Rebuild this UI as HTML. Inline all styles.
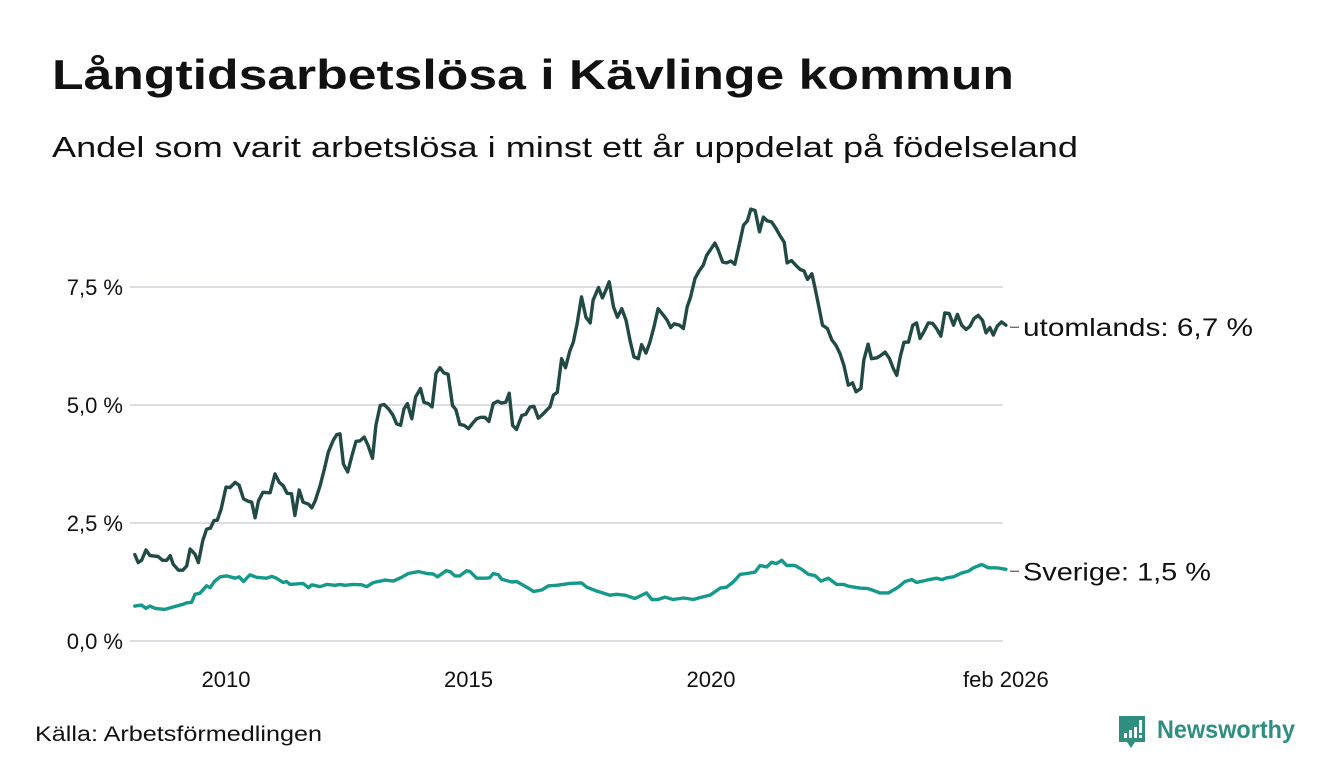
<!DOCTYPE html>
<html><head><meta charset="utf-8">
<style>
html,body{margin:0;padding:0;background:#fff;}
svg{display:block;font-family:"Liberation Sans",sans-serif;}
</style></head>
<body>
<svg id="chart" width="1340" height="780" viewBox="0 0 1340 780" xmlns="http://www.w3.org/2000/svg">
<text x="52" y="89" font-size="42" font-weight="bold" fill="#111" textLength="962" lengthAdjust="spacingAndGlyphs">Långtidsarbetslösa i Kävlinge kommun</text>
<text x="52" y="157" font-size="29" fill="#111" textLength="1026" lengthAdjust="spacingAndGlyphs">Andel som varit arbetslösa i minst ett år uppdelat på födelseland</text>
<g id="grid"></g>
<g id="yticks"></g>
<g id="xticks"></g>
<g id="lines"></g>
<g id="labels"></g>
<text x="35" y="741" font-size="21" fill="#111" textLength="287" lengthAdjust="spacingAndGlyphs">Källa: Arbetsförmedlingen</text>
<g>
<path d="M1119 716 h26 v26 h-10 l-4 6 l-4 -6 h-8 z" fill="#2e8f80"/>
<rect x="1124" y="733" width="3" height="5" fill="#fff"/>
<rect x="1129" y="730" width="3" height="8" fill="#fff"/>
<rect x="1134" y="727" width="3" height="11" fill="#fff"/>
<rect x="1139" y="720" width="3" height="13" fill="#fff"/>
<rect x="1139" y="735" width="3" height="3" fill="#fff"/>
<text x="1157" y="738" font-size="25" font-weight="bold" fill="#2e8f80" textLength="138" lengthAdjust="spacingAndGlyphs">Newsworthy</text>
</g>
</svg>
<script>
const utYears = [2008.12,2008.19,2008.26,2008.35,2008.43,2008.60,2008.69,2008.78,2008.85,2008.91,2009.02,2009.11,2009.19,2009.26,2009.36,2009.43,2009.52,2009.60,2009.68,2009.75,2009.82,2009.90,2010.00,2010.08,2010.19,2010.27,2010.36,2010.46,2010.53,2010.60,2010.67,2010.76,2010.91,2011.01,2011.10,2011.18,2011.26,2011.35,2011.42,2011.51,2011.59,2011.70,2011.77,2011.84,2011.94,2012.02,2012.11,2012.21,2012.28,2012.35,2012.42,2012.51,2012.59,2012.68,2012.76,2012.85,2012.93,2013.02,2013.09,2013.18,2013.26,2013.35,2013.44,2013.52,2013.60,2013.67,2013.74,2013.83,2013.91,2014.01,2014.08,2014.17,2014.25,2014.33,2014.41,2014.49,2014.58,2014.67,2014.74,2014.82,2014.91,2015.00,2015.09,2015.17,2015.25,2015.34,2015.42,2015.51,2015.60,2015.68,2015.77,2015.84,2015.91,2015.99,2016.10,2016.18,2016.27,2016.35,2016.44,2016.53,2016.61,2016.68,2016.75,2016.83,2016.92,2017.00,2017.09,2017.16,2017.24,2017.33,2017.42,2017.51,2017.57,2017.68,2017.76,2017.83,2017.90,2017.99,2018.07,2018.16,2018.25,2018.33,2018.41,2018.50,2018.57,2018.66,2018.74,2018.82,2018.91,2019.02,2019.10,2019.17,2019.24,2019.35,2019.43,2019.51,2019.58,2019.67,2019.76,2019.84,2019.91,2019.99,2020.08,2020.15,2020.24,2020.32,2020.41,2020.49,2020.58,2020.67,2020.75,2020.82,2020.91,2021.00,2021.08,2021.16,2021.25,2021.34,2021.42,2021.51,2021.57,2021.66,2021.75,2021.84,2021.92,2021.99,2022.08,2022.14,2022.21,2022.30,2022.40,2022.49,2022.58,2022.66,2022.74,2022.83,2022.92,2022.99,2023.09,2023.15,2023.24,2023.31,2023.42,2023.50,2023.59,2023.68,2023.76,2023.83,2023.90,2023.98,2024.07,2024.16,2024.24,2024.31,2024.39,2024.48,2024.57,2024.65,2024.74,2024.82,2024.91,2025.00,2025.08,2025.17,2025.26,2025.34,2025.42,2025.51,2025.60,2025.67,2025.75,2025.82,2025.90,2025.99,2026.08];
const utValues = [1.83,1.66,1.71,1.93,1.81,1.79,1.71,1.71,1.81,1.63,1.50,1.50,1.59,1.95,1.84,1.66,2.12,2.37,2.39,2.55,2.56,2.80,3.26,3.25,3.36,3.30,3.01,2.96,2.94,2.61,2.97,3.15,3.14,3.54,3.36,3.29,3.13,3.12,2.66,3.20,2.94,2.90,2.82,2.97,3.29,3.61,4.00,4.25,4.37,4.39,3.75,3.58,3.90,4.23,4.24,4.32,4.14,3.87,4.57,4.99,5.01,4.92,4.79,4.60,4.57,4.92,5.03,4.71,5.17,5.35,5.06,5.03,4.96,5.67,5.79,5.68,5.65,4.99,4.90,4.59,4.57,4.50,4.62,4.71,4.74,4.74,4.65,5.03,5.08,5.04,5.06,5.25,4.57,4.48,4.78,4.80,4.96,4.97,4.72,4.80,4.89,4.96,5.21,5.27,5.98,5.79,6.15,6.33,6.72,7.29,6.86,6.74,7.22,7.49,7.27,7.43,7.61,7.08,6.86,7.04,6.79,6.37,6.02,5.98,6.28,6.10,6.33,6.64,7.04,6.90,6.79,6.64,6.72,6.69,6.62,7.08,7.29,7.68,7.85,7.96,8.17,8.29,8.43,8.28,8.03,8.01,8.05,7.98,8.38,8.81,8.90,9.15,9.12,8.67,8.98,8.90,8.88,8.74,8.59,8.45,8.01,8.06,7.96,7.87,7.84,7.66,7.78,7.50,7.15,6.69,6.62,6.38,6.26,6.09,5.84,5.42,5.47,5.28,5.35,5.95,6.29,5.98,6.00,6.05,6.12,5.98,5.77,5.63,6.02,6.33,6.33,6.69,6.74,6.41,6.55,6.74,6.73,6.62,6.46,6.95,6.94,6.69,6.92,6.69,6.60,6.67,6.83,6.90,6.79,6.53,6.64,6.48,6.67,6.76,6.69];
const svYears = [2008.12,2008.26,2008.35,2008.43,2008.54,2008.74,2008.91,2009.12,2009.19,2009.29,2009.36,2009.46,2009.60,2009.67,2009.77,2009.88,2010.01,2010.19,2010.27,2010.36,2010.49,2010.63,2010.84,2010.94,2011.04,2011.18,2011.25,2011.32,2011.59,2011.70,2011.77,2011.94,2012.08,2012.25,2012.35,2012.45,2012.63,2012.80,2012.90,2013.04,2013.28,2013.45,2013.62,2013.76,2013.97,2014.14,2014.27,2014.36,2014.54,2014.62,2014.72,2014.82,2014.96,2015.03,2015.17,2015.37,2015.44,2015.51,2015.62,2015.68,2015.89,2015.99,2016.10,2016.23,2016.34,2016.51,2016.65,2016.82,2017.09,2017.33,2017.44,2017.64,2017.92,2018.05,2018.23,2018.43,2018.67,2018.78,2018.91,2019.05,2019.22,2019.43,2019.64,2019.77,2019.98,2020.19,2020.32,2020.46,2020.60,2020.74,2020.91,2021.01,2021.15,2021.25,2021.35,2021.46,2021.56,2021.73,2021.87,2022.01,2022.14,2022.27,2022.42,2022.59,2022.73,2022.83,2023.07,2023.24,2023.35,2023.48,2023.66,2023.86,2024.00,2024.14,2024.24,2024.45,2024.65,2024.76,2024.86,2025.00,2025.17,2025.31,2025.41,2025.58,2025.72,2025.89,2026.08];
const svValues = [0.74,0.76,0.69,0.74,0.69,0.67,0.72,0.78,0.81,0.82,0.99,1.01,1.17,1.13,1.27,1.36,1.38,1.33,1.36,1.26,1.40,1.35,1.33,1.37,1.33,1.24,1.26,1.20,1.22,1.13,1.19,1.15,1.20,1.18,1.20,1.18,1.20,1.19,1.15,1.24,1.29,1.27,1.35,1.43,1.47,1.43,1.42,1.36,1.49,1.47,1.38,1.38,1.49,1.47,1.33,1.33,1.34,1.43,1.40,1.31,1.25,1.26,1.20,1.12,1.05,1.08,1.17,1.18,1.22,1.23,1.14,1.06,0.97,0.99,0.97,0.90,1.02,0.88,0.88,0.93,0.88,0.91,0.88,0.92,0.97,1.12,1.14,1.25,1.41,1.43,1.46,1.60,1.57,1.67,1.64,1.71,1.60,1.60,1.52,1.41,1.39,1.27,1.33,1.20,1.20,1.16,1.12,1.11,1.07,1.02,1.02,1.14,1.26,1.30,1.24,1.29,1.33,1.30,1.34,1.36,1.44,1.48,1.55,1.62,1.55,1.55,1.52];
const yTicks = [0, 2.5, 5, 7.5];
const yTickLabels = ["0,0 %", "2,5 %", "5,0 %", "7,5 %"];
const xTicks = [2010, 2015, 2020, 2026.08];
const xTickLabels = ["2010", "2015", "2020", "feb 2026"];
const seriesNames = ["utomlands", "Sverige"];
const lastLabels = ["utomlands: 6,7 %", "Sverige: 1,5 %"];

const NS = "http://www.w3.org/2000/svg";
function xs(yr){ return 226 + (yr - 2010) * 48.5; }
function ys(v){ return 641 - v * 47.2; }
function mk(tag, attrs, parent){ const e=document.createElementNS(NS,tag); for(const k in attrs) e.setAttribute(k,attrs[k]); parent.appendChild(e); return e; }

const grid=document.getElementById('grid'), yt=document.getElementById('yticks'), xt=document.getElementById('xticks'), lines=document.getElementById('lines'), labels=document.getElementById('labels');
yTicks.forEach((t,i)=>{
  const l=mk('line',{x1:130,x2:1003,y1:ys(t),y2:ys(t),stroke:'#dedde3','stroke-width':2},grid);
  
  
  const tx=mk('text',{x:123,y:ys(t)+8,'font-size':22,fill:'#111','text-anchor':'end'},yt);
  
  
  tx.textContent=yTickLabels[i];
});
xTicks.forEach((t,i)=>{
  const tx=mk('text',{x:xs(t),y:687,'font-size':22,fill:'#111','text-anchor':'middle'},xt);
  
  
  tx.textContent=xTickLabels[i];
});
const colors=['#224a44','#15998a'];
[[utYears,utValues],[svYears,svValues]].forEach((s,si)=>{
  const d=s[0].map((yr,i)=>(i?'L':'M')+xs(yr).toFixed(1)+','+ys(s[1][i]).toFixed(1)).join(' ');
  const p=mk('path',{d:d,fill:'none',stroke:colors[si],'stroke-width':3.4,'stroke-linejoin':'round','stroke-linecap':'round'},lines);
  
  
  const lastY=ys(s[1][s[1].length-1]);
  const c=mk('line',{x1:1010,x2:1019,y1:lastY+2,y2:lastY+2,stroke:'#555','stroke-width':1.2},labels);
  
  
  const tx=mk('text',{x:1023,y:lastY+11,'font-size':25,fill:'#111'},labels);
  
  
  tx.setAttribute('textLength', si===0?230:188);
  tx.setAttribute('lengthAdjust','spacingAndGlyphs');
  tx.textContent=lastLabels[si];
});
</script>
</body></html>
